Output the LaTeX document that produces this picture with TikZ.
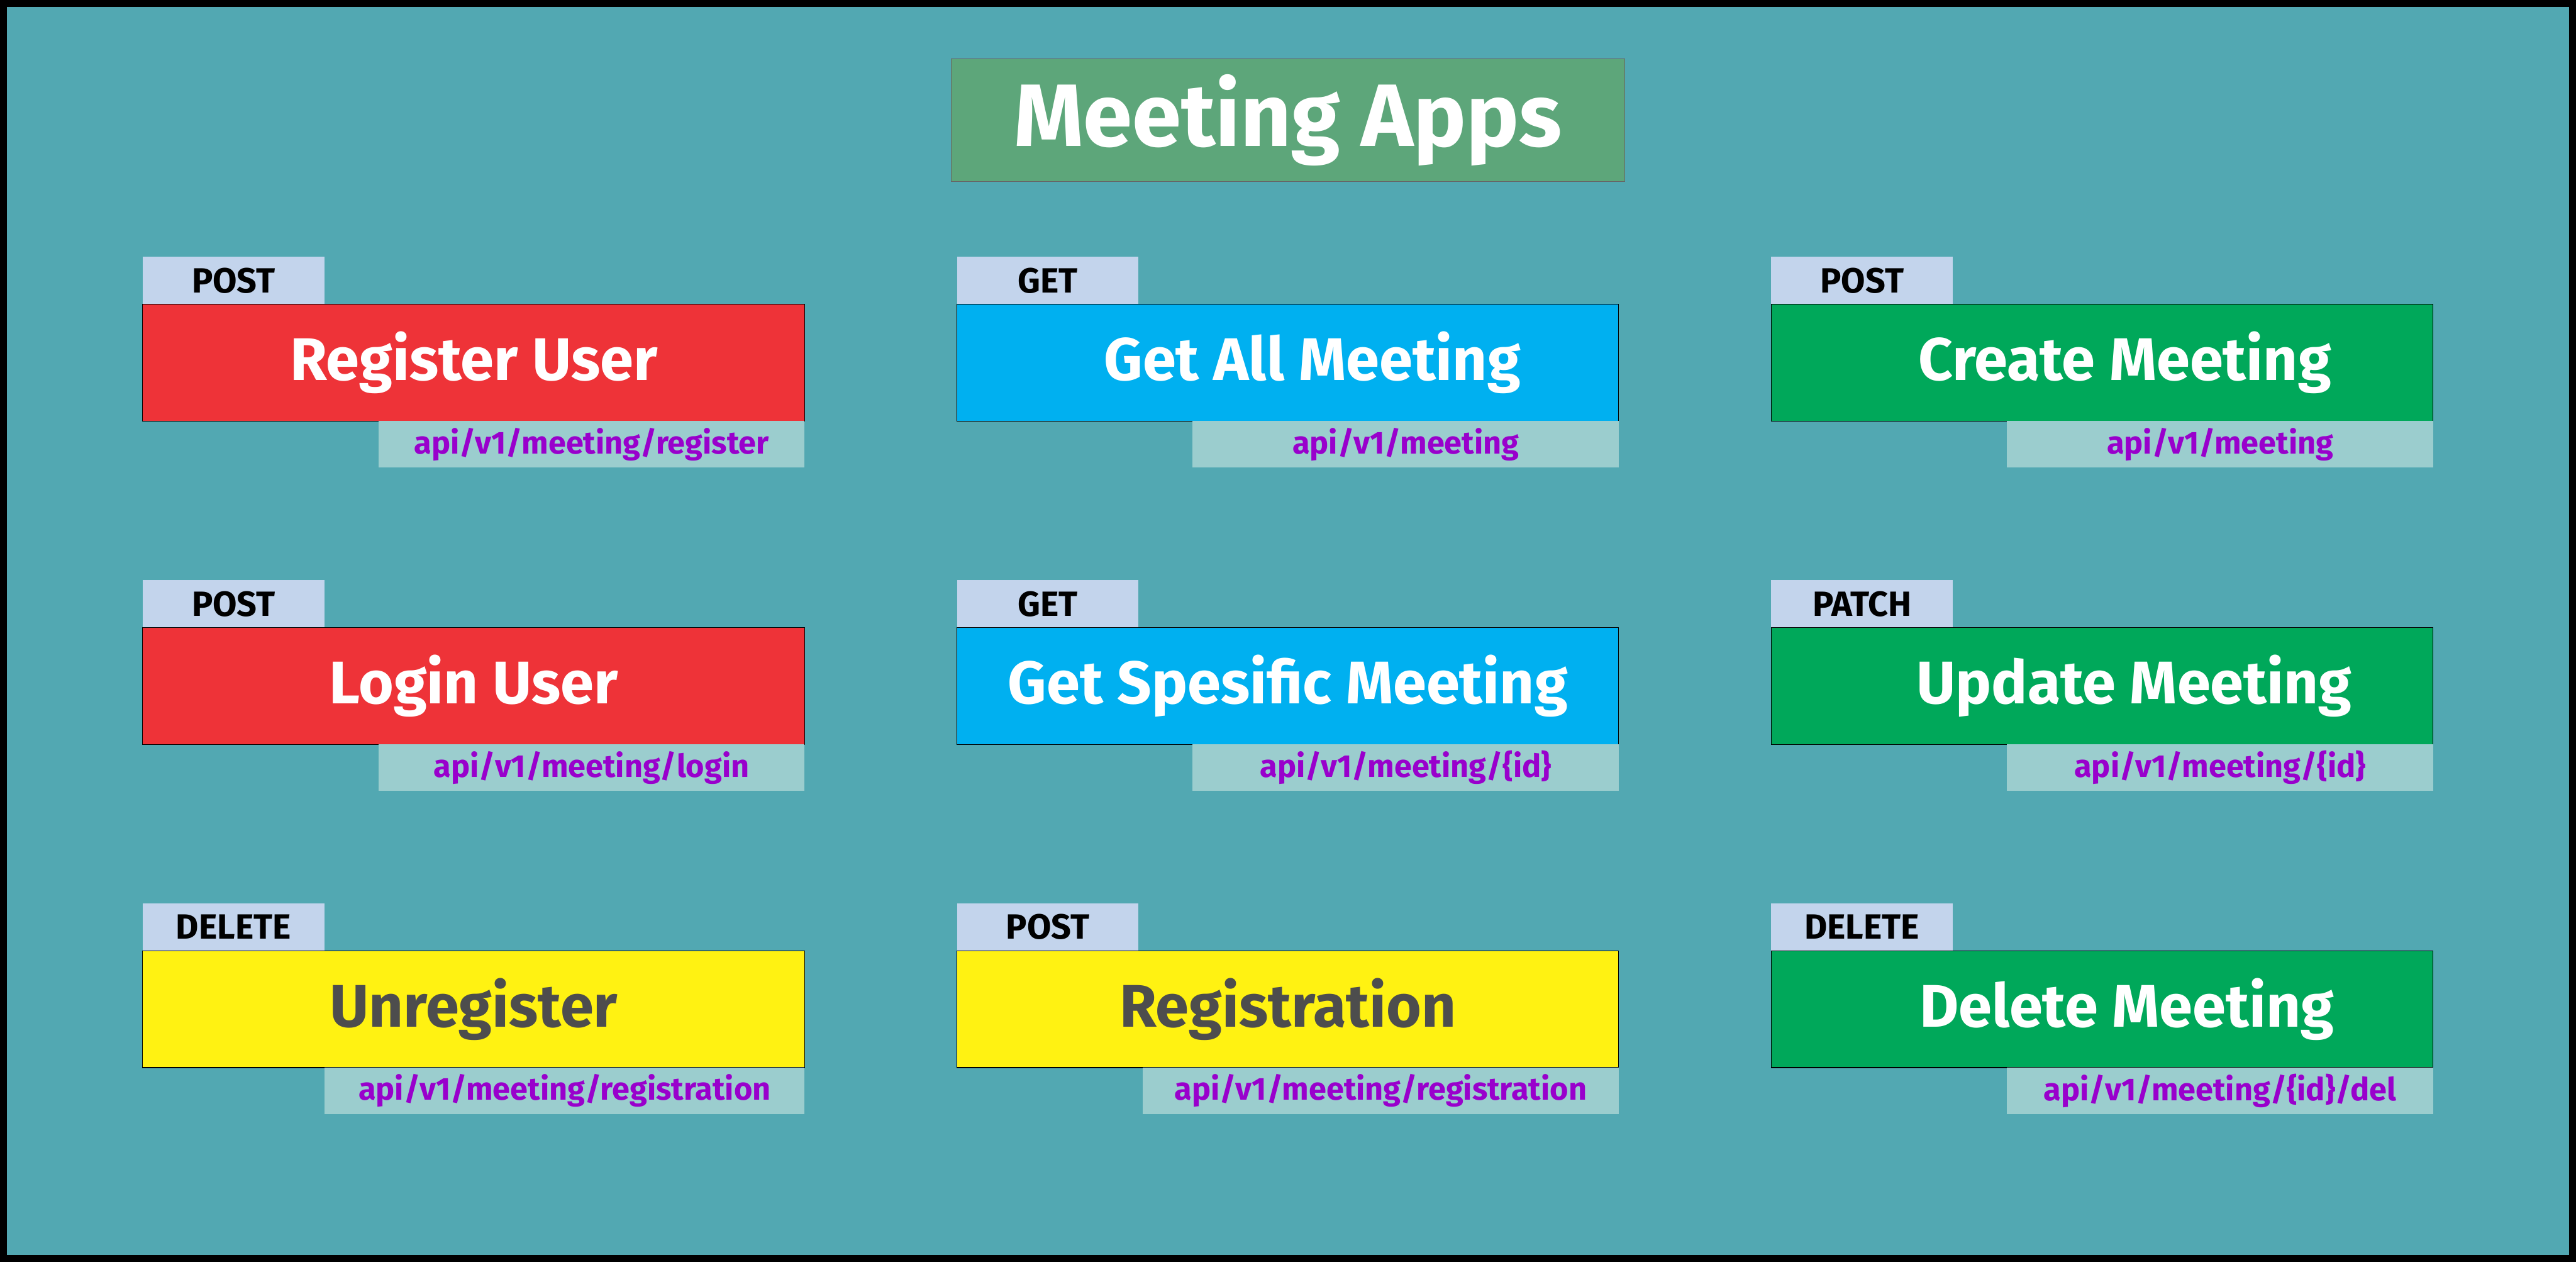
\documentclass[tikz,border=0pt]{standalone}
\usepackage{fontspec}
\setmainfont{Fira Sans}
\usepackage{tikz}
\usetikzlibrary{positioning}
\definecolor{bgteal}{HTML}{52A8B2}
\definecolor{titlegreen}{HTML}{5DA67A}
\definecolor{apired}{HTML}{EE3338}
\definecolor{apiblue}{HTML}{00B0F0}
\definecolor{apigreen}{HTML}{00A85A}
\definecolor{apiyellow}{HTML}{FFF212}
\definecolor{tabblue}{HTML}{C3D4EC}
\definecolor{tabaqua}{HTML}{9BCDCE}
\definecolor{pathpurple}{HTML}{9900CC}
\definecolor{textgrey}{HTML}{4D4D4D}

\begin{document}
\begin{tikzpicture}[
  card/.style={draw=black,line width=0.5pt,minimum width=17.6cm,minimum height=3.11cm,inner sep=0pt,outer sep=0pt,text=white,font=\fontsize{45.5}{49}\selectfont\bfseries},
  verb/.style={fill=tabblue,minimum width=4.83cm,minimum height=1.26cm,inner sep=0pt,outer sep=0pt,font=\fontsize{26.5}{28}\selectfont\bfseries},
  route/.style={fill=tabaqua,minimum width=11.33cm,minimum height=1.23cm,inner sep=0pt,outer sep=0pt,text=pathpurple,font=\fontsize{24}{26}\selectfont\bfseries}]
% frame and background
\fill[black] (0,0) rectangle (68.5,-33.54);
\fill[bgteal] (0.18,-0.18) rectangle (68.32,-33.36);
\node[draw=black!60,line width=0.5pt,fill=titlegreen,minimum width=17.9cm,minimum height=3.26cm,inner sep=0pt,text=white,font=\fontsize{67}{70}\selectfont\bfseries] (title) at (34.25,-3.20) {Meeting Apps};
% row 1
\node[card,fill=apired] (reguser) at (12.595,-9.64) {Register User};
\node[verb,above right=0pt and 0pt of reguser.north west] (reguserverb) {POST};
\node[route,below left=0pt and 0pt of reguser.south east] (reguserroute) {api/v1/meeting/register};
\node[card,fill=apiblue] (getall) at (34.245,-9.64) {\hspace*{1.3cm}Get All Meeting};
\node[verb,above right=0pt and 0pt of getall.north west] (getallverb) {GET};
\node[route,below left=0pt and 0pt of getall.south east] (getallroute) {api/v1/meeting};
\node[card,fill=apigreen] (create) at (55.90,-9.64) {\hspace*{1.2cm}Create Meeting};
\node[verb,above right=0pt and 0pt of create.north west] (createverb) {POST};
\node[route,below left=0pt and 0pt of create.south east] (createroute) {api/v1/meeting};
% row 2
\node[card,fill=apired] (login) at (12.595,-18.235) {Login User};
\node[verb,above right=0pt and 0pt of login.north west] (loginverb) {POST};
\node[route,below left=0pt and 0pt of login.south east] (loginroute) {api/v1/meeting/login};
\node[card,fill=apiblue] (getone) at (34.245,-18.235) {Get Spesific Meeting};
\node[verb,above right=0pt and 0pt of getone.north west] (getoneverb) {GET};
\node[route,below left=0pt and 0pt of getone.south east] (getoneroute) {api/v1/meeting/\{id\}};
\node[card,fill=apigreen] (update) at (55.90,-18.235) {\hspace*{1.7cm}Update Meeting};
\node[verb,above right=0pt and 0pt of update.north west] (updateverb) {PATCH};
\node[route,below left=0pt and 0pt of update.south east] (updateroute) {api/v1/meeting/\{id\}};
% row 3
\node[card,fill=apiyellow,text=textgrey] (unreg) at (12.595,-26.825) {Unregister};
\node[verb,above right=0pt and 0pt of unreg.north west] (unregverb) {DELETE};
\node[route,minimum width=12.76cm,below left=0pt and 0pt of unreg.south east] (unregroute) {api/v1/meeting/registration};
\node[card,fill=apiyellow,text=textgrey] (regist) at (34.245,-26.825) {Registration};
\node[verb,above right=0pt and 0pt of regist.north west] (registverb) {POST};
\node[route,minimum width=12.66cm,below left=0pt and 0pt of regist.south east] (registroute) {api/v1/meeting/registration};
\node[card,fill=apigreen] (delete) at (55.90,-26.825) {\hspace*{1.3cm}Delete Meeting};
\node[verb,above right=0pt and 0pt of delete.north west] (deleteverb) {DELETE};
\node[route,below left=0pt and 0pt of delete.south east] (deleteroute) {api/v1/meeting/\{id\}/del};
\end{tikzpicture}
\end{document}
